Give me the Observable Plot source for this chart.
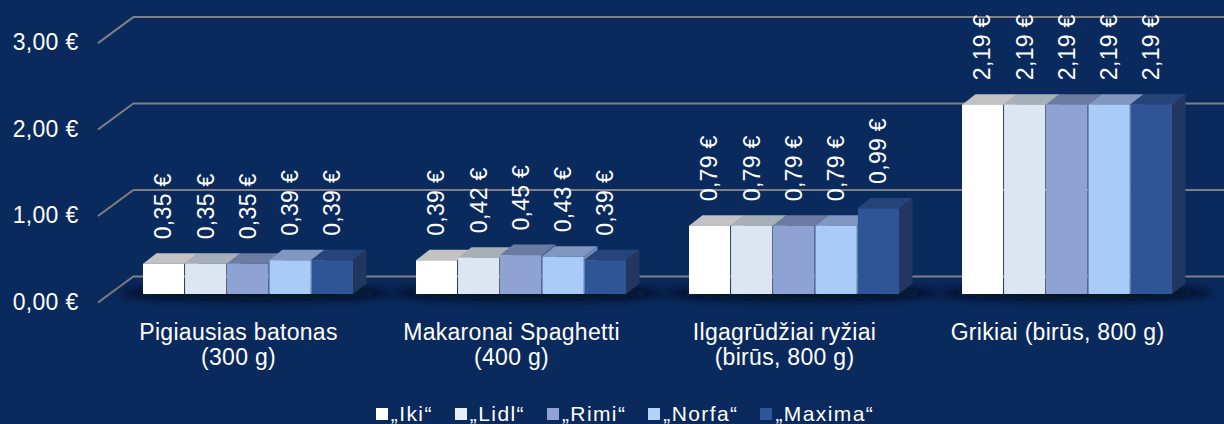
<!DOCTYPE html>
<html>
<head>
<meta charset="utf-8">
<script src="https://cdn.jsdelivr.net/npm/d3@7"></script>
<script src="https://cdn.jsdelivr.net/npm/@observablehq/plot@0.6"></script>
<style>
  html, body { margin: 0; padding: 0; background: #0a2a5e; width: 1224px; height: 424px; overflow: hidden;
    font-family: "Liberation Sans", Arial, sans-serif; }
  #legend { display: flex; justify-content: center; align-items: center; height: 22px; padding-top: 11px;
    padding-left: 26px; color: #fff; font-size: 21px; letter-spacing: 1.4px; }
  .item { display: flex; align-items: center; margin: 0 11px; }
  .sw { width: 12px; height: 12px; margin-right: 3px; }
</style>
</head>
<body>
<div id="chart"></div>
<div id="legend"></div>
<script>
// ---- data ----
const categories = [
  "Pigiausias batonas\n(300 g)",
  "Makaronai Spaghetti\n(400 g)",
  "Ilgagrūdžiai ryžiai\n(birūs, 800 g)",
  "Grikiai (birūs, 800 g)"
];
const stores = ["„Iki“", "„Lidl“", "„Rimi“", "„Norfa“", "„Maxima“"];
const iki    = [0.35, 0.39, 0.79, 2.19];
const lidl   = [0.35, 0.42, 0.79, 2.19];
const rimi   = [0.35, 0.45, 0.79, 2.19];
const norfa  = [0.39, 0.43, 0.79, 2.19];
const maxima = [0.39, 0.39, 0.99, 2.19];
const yTicks = [0, 1, 2, 3];

// ---- styles ----
const frontColors = ["#ffffff", "#dce6f2", "#8fa2d4", "#a9cbf7", "#2f5597"];
const topColors   = ["#c2c2c2", "#a7b0b8", "#6b7ba1", "#8097c1", "#26437a"];
const sideColors  = ["#b5b5b5", "#98a1aa", "#5e6d93", "#7189b3", "#22375f"];
const legendColors = ["#ffffff", "#e6eefa", "#8fa2d4", "#b3d1f9", "#2f5597"];

const W = 1224, H = 392, ML = 110, MR = 19, MT = 0, MB = 98;
const PAD_IN = 0.229, PAD_OUT = 0.1145;
const DX = 13.5, DY = -10.5;
const step = (W - ML - MR) / (categories.length - PAD_IN + 2 * PAD_OUT);
const groupW = step * (1 - PAD_IN);
const barW = groupW / stores.length;

const series = [iki, lidl, rimi, norfa, maxima];
const rows = series.map((vals, i) => categories.map((c, j) => ({category: c, store: stores[i], value: vals[j]})));

const euro = v => d3.format(".2f")(v).replace(".", ",") + " €";

// ---- custom marks using the plot's scales ----
const diagonals = (index, {y}, values, {marginLeft}) => {
  const g = d3.create("svg:g");
  yTicks.forEach(t => {
    g.append("line")
      .attr("x1", marginLeft - 12).attr("y1", y(t) + 8.5)
      .attr("x2", marginLeft + 24).attr("y2", y(t) - 18)
      .attr("stroke", "#808080").attr("stroke-width", 2);
  });
  return g.node();
};

const shadows = (index, {x, y}) => {
  const g = d3.create("svg:g");
  const f = g.append("defs").append("filter").attr("id", "shadowblur")
    .attr("x", "-50%").attr("y", "-200%").attr("width", "200%").attr("height", "500%");
  f.append("feGaussianBlur").attr("stdDeviation", 5);
  categories.forEach(c => {
    const bw = x.bandwidth();
    g.append("ellipse")
      .attr("cx", x(c) + bw / 2 + 8).attr("cy", y(0) - 1)
      .attr("rx", bw / 2 + 32).attr("ry", 7)
      .attr("fill", "#000814").attr("opacity", 0.9)
      .attr("filter", "url(#shadowblur)");
  });
  return g.node();
};

const faces = i => (index, {x, y}) => {
  const g = d3.create("svg:g");
  const w = x.bandwidth() / stores.length;
  rows[i].forEach(d => {
    const x0 = x(d.category) + i * w, x1 = x0 + w, yt = y(d.value), yb = y(0);
    g.append("polygon")
      .attr("points", [[x0, yt], [x1, yt], [x1 + DX, yt + DY], [x0 + DX, yt + DY]].join(" "))
      .attr("fill", topColors[i]);
    g.append("polygon")
      .attr("points", [[x1, yt], [x1 + DX, yt + DY], [x1 + DX, yb + DY], [x1, yb]].join(" "))
      .attr("fill", sideColors[i]);
  });
  return g.node();
};

const marks = [
  Plot.ruleY(yTicks, {dx: 24, dy: -18, stroke: "#808080", strokeWidth: 2}),
  diagonals,
  shadows
];
stores.forEach((s, i) => {
  marks.push(faces(i));
  marks.push(Plot.barY(rows[i], {
    x: "category", y: "value", fill: frontColors[i],
    insetLeft: i * barW, insetRight: (stores.length - 1 - i) * barW
  }));
});
stores.forEach((s, i) => {
  marks.push(Plot.text(rows[i], {
    x: "category", y: "value", text: d => euro(d.value),
    rotate: -90, textAnchor: "start", lineAnchor: "middle",
    dx: (i - (stores.length - 1) / 2) * barW, dy: -25,
    fontSize: 23, fill: "white"
  }));
});
marks.push(Plot.axisY(yTicks, {tickSize: 0, tickPadding: 32, dy: 8, tickFormat: euro, fontSize: 23, label: null}));
marks.push(Plot.text(categories, {
  x: d => d, text: d => d, frameAnchor: "bottom", lineAnchor: "top",
  dy: 28, dx: -10, fontSize: 23, lineHeight: 25 / 23, fill: "white"
}));

const chart = Plot.plot({
  width: W, height: H,
  marginLeft: ML, marginRight: MR, marginTop: MT, marginBottom: MB,
  x: {domain: categories, paddingInner: PAD_IN, paddingOuter: PAD_OUT, axis: null},
  y: {domain: [0, 3.4], axis: null},
  style: {background: "transparent", color: "white", fontFamily: "Liberation Sans, Arial, sans-serif", fontSize: "23px", letterSpacing: "0.3px"},
  marks
});
document.getElementById("chart").appendChild(chart);

// ---- legend ----
const legend = d3.select("#legend");
stores.forEach((s, i) => {
  const item = legend.append("div").attr("class", "item");
  item.append("div").attr("class", "sw").style("background", legendColors[i]);
  item.append("span").text(s);
});
</script>
</body>
</html>
